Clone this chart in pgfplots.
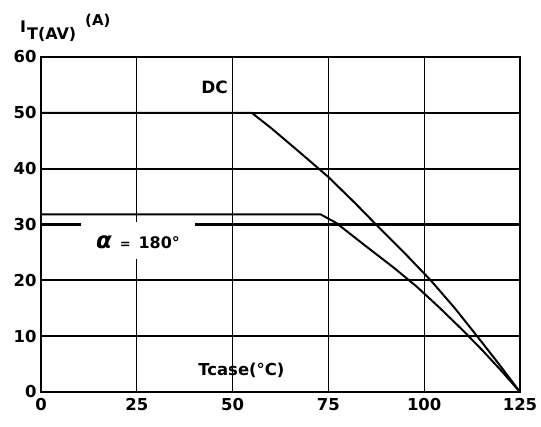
\documentclass[border=0pt]{standalone}
\usepackage{fontspec}
\setmainfont{DejaVu Sans}
\usepackage{pgfplots}
\pgfplotsset{compat=1.18}
\begin{document}
\begin{tikzpicture}
\begin{axis}[
  scale only axis, width=479bp, height=335bp,
  xmin=0, xmax=125, ymin=0, ymax=60,
  xtick={0,25,50,75,100,125}, ytick={0,10,20,30,40,50,60},
  grid=major,
  x grid style={black, line width=1bp},
  y grid style={black, line width=2.2bp},
  axis line style={line width=2.2bp},
  major tick length=0pt,
  tick label style={font=\bfseries\fontsize{16.5}{16.5}\selectfont},
  /pgf/number format/assume math mode=true,
  xticklabel style={yshift=-3bp},
  yticklabel style={xshift=-1bp},
]
\addplot[black, line width=2bp] coordinates {
  (0,50) (55,50) (60,47.3) (67.4,43) (75,38.5) (82,33.8) (88,29.6) (95,24.8) (101.7,20) (108,15) (113.8,10) (119.5,5) (125,0)};
\addplot[black, line width=2bp] coordinates {
  (0,31.8) (73,31.8) (77,30.3) (85,26.0) (92,22.3) (98,18.9) (104,15.1) (110,11.1) (115,7.6) (120,3.9) (125,0)};
\fill[white] (axis cs:10.4,23.8) rectangle (axis cs:40.1,30.4);
\node[font=\bfseries\fontsize{17}{17}\selectfont] at (axis cs:45.3,54.6) {DC};
\node[font=\bfseries\fontsize{16}{16}\selectfont] at (axis cs:25.3,26.9)
  {{\fontsize{23}{23}\selectfont\itshape α}\enspace{\fontsize{13}{13}\selectfont=}\enspace180°};
\node[font=\bfseries\fontsize{16.5}{16.5}\selectfont] at (axis cs:52.3,3.9) {Tcase(°C)};
\end{axis}
\node[font=\bfseries\fontsize{16}{16}\selectfont] at ([shift={(-18bp,30bp)}]current axis.north west) {I};
\node[font=\bfseries\fontsize{16}{16}\selectfont, anchor=west, inner sep=0pt] at ([shift={(-14bp,22bp)}]current axis.north west) {T(AV)};
\node[font=\bfseries\fontsize{15}{15}\selectfont, anchor=west, inner sep=0pt] at ([shift={(44bp,36bp)}]current axis.north west) {(A)};
\pgfresetboundingbox
\path ([shift={(-41bp,-35bp)}]current axis.south west) rectangle ([shift={(500bp,392bp)}]current axis.south west);
\end{tikzpicture}
\end{document}
